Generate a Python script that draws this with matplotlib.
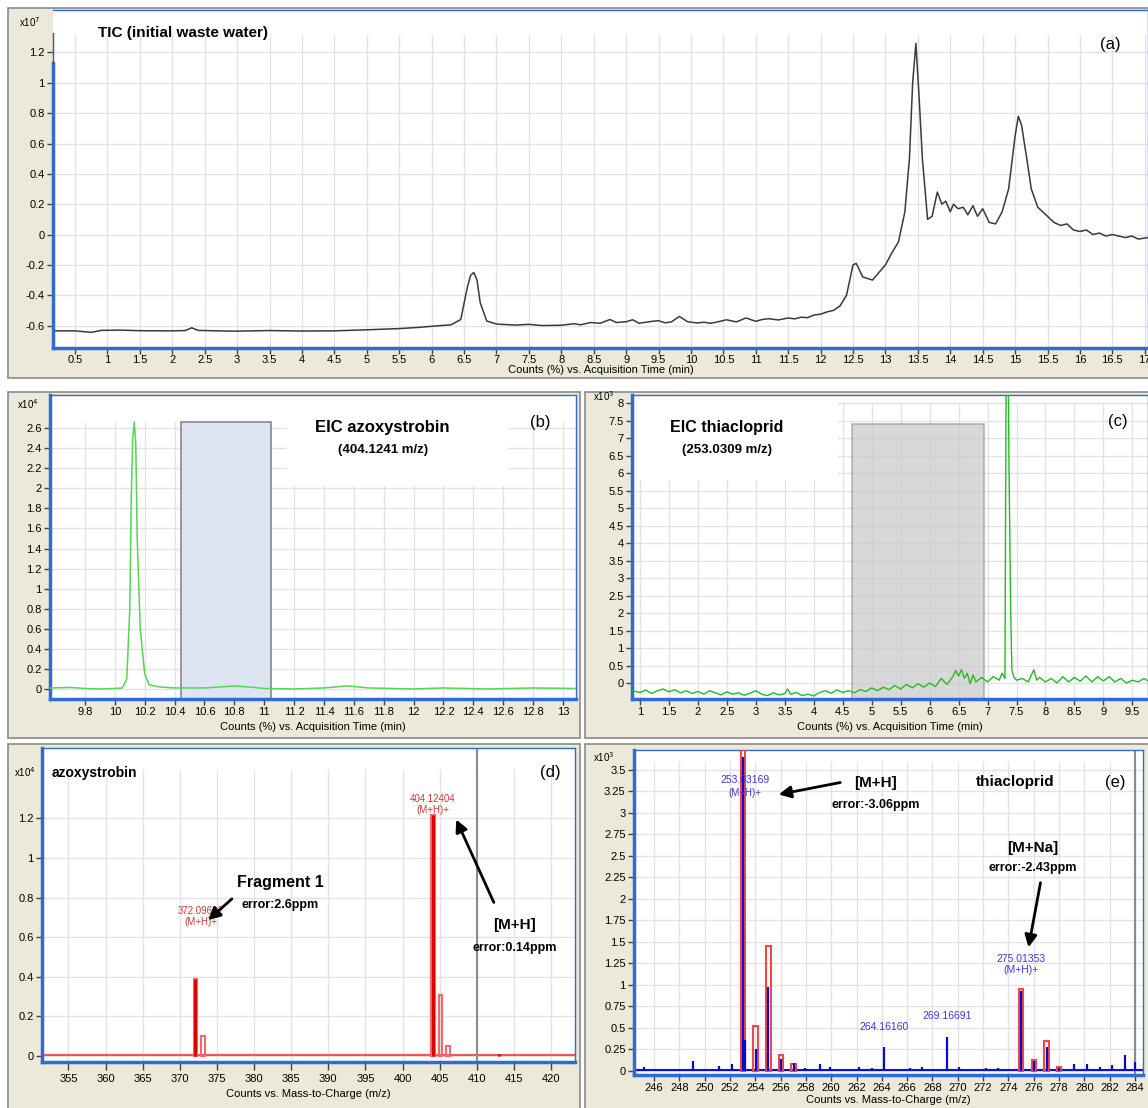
import numpy as np
import matplotlib.pyplot as plt
from matplotlib.patches import Rectangle
from matplotlib.ticker import FuncFormatter

plt.rcParams['font.family'] = ['Liberation Sans', 'DejaVu Sans']

W, H = 1148, 1108

# ---- (a) TIC of the initial waste water, x10^7 counts vs min ----
tic_t = [0.16, 0.5, 0.75, 0.9, 1.2, 1.5, 2.0, 2.2, 2.3, 2.4, 2.8, 3.0, 3.5, 4.0, 4.5,
         5.0, 5.5, 5.8, 6.0, 6.3, 6.45, 6.55, 6.6, 6.65, 6.7, 6.75, 6.85, 7.0, 7.3, 7.5,
         7.7, 8.0, 8.2, 8.3, 8.45, 8.6, 8.75, 8.85, 9.0, 9.1, 9.2, 9.35, 9.5, 9.6, 9.7,
         9.82, 9.95, 10.1, 10.2, 10.3, 10.4, 10.55, 10.7, 10.85, 11.0, 11.1, 11.2, 11.35,
         11.5, 11.6, 11.7, 11.8, 11.9, 12.0, 12.1, 12.2, 12.3, 12.4, 12.5, 12.55, 12.65,
         12.8, 12.9, 13.0, 13.1, 13.2, 13.3, 13.37, 13.42, 13.47, 13.52, 13.57, 13.65,
         13.72, 13.8, 13.87, 13.93, 14.0, 14.05, 14.12, 14.2, 14.27, 14.35, 14.42, 14.5,
         14.6, 14.7, 14.8, 14.9, 15.0, 15.05, 15.1, 15.18, 15.25, 15.35, 15.5, 15.6,
         15.7, 15.8, 15.9, 16.0, 16.1, 16.2, 16.3, 16.4, 16.5, 16.6, 16.7, 16.8, 16.9,
         17.05]
tic_y = [-0.635, -0.635, -0.645, -0.632, -0.63, -0.634, -0.635, -0.633, -0.615, -0.632,
         -0.636, -0.637, -0.633, -0.636, -0.635, -0.628, -0.62, -0.612, -0.605, -0.595,
         -0.56, -0.35, -0.27, -0.25, -0.3, -0.45, -0.57, -0.59, -0.597, -0.592, -0.6,
         -0.598, -0.588, -0.595, -0.58, -0.585, -0.56, -0.58, -0.575, -0.562, -0.585,
         -0.575, -0.568, -0.582, -0.576, -0.54, -0.575, -0.583, -0.578, -0.585, -0.577,
         -0.562, -0.576, -0.55, -0.572, -0.56, -0.555, -0.563, -0.55, -0.556, -0.545,
         -0.548, -0.53, -0.525, -0.51, -0.5, -0.47, -0.4, -0.2, -0.19, -0.28, -0.3,
         -0.25, -0.2, -0.12, -0.05, 0.15, 0.5, 1.0, 1.26, 0.9, 0.5, 0.1, 0.12, 0.28, 0.2,
         0.22, 0.15, 0.2, 0.17, 0.18, 0.13, 0.19, 0.12, 0.17, 0.08, 0.07, 0.15, 0.3, 0.65,
         0.78, 0.72, 0.5, 0.3, 0.18, 0.12, 0.08, 0.06, 0.07, 0.03, 0.02, 0.03, 0.0, 0.01,
         -0.01, 0.0, -0.01, -0.02, -0.01, -0.03, -0.02]

# ---- (b) EIC azoxystrobin, x10^4 ----
eicb_t = [9.57, 9.7, 9.8, 9.9, 10.0, 10.05, 10.08, 10.1, 10.11, 10.12, 10.13, 10.14,
          10.15, 10.17, 10.2, 10.23, 10.3, 10.4, 10.6, 10.8, 10.9, 11.0, 11.2, 11.4,
          11.55, 11.6, 11.7, 12.0, 12.2, 12.5, 12.8, 13.08]
eicb_y = [0.01, 0.015, 0.005, 0.0, 0.005, 0.01, 0.1, 0.8, 1.9, 2.5, 2.66, 2.45, 1.5,
          0.6, 0.15, 0.04, 0.02, 0.01, 0.01, 0.03, 0.02, 0.005, 0.0, 0.01, 0.03, 0.025,
          0.01, 0.0, 0.01, 0.0, 0.01, 0.005]

# ---- (c) EIC thiacloprid, x10^3 ----
eicc_t = [0.87, 1.0, 1.1, 1.2, 1.3, 1.4, 1.5, 1.6, 1.7, 1.8, 1.9, 2.0, 2.1, 2.2, 2.3,
          2.4, 2.5, 2.6, 2.7, 2.8, 2.9, 3.0, 3.1, 3.2, 3.3, 3.4, 3.5, 3.55, 3.6, 3.7,
          3.8, 3.9, 4.0, 4.1, 4.2, 4.3, 4.4, 4.5, 4.6, 4.7, 4.8, 4.9, 5.0, 5.1, 5.2,
          5.3, 5.4, 5.5, 5.6, 5.7, 5.8, 5.9, 6.0, 6.1, 6.2, 6.3, 6.4, 6.45, 6.5, 6.55,
          6.6, 6.65, 6.7, 6.75, 6.8, 6.9, 7.0, 7.1, 7.2, 7.25, 7.3, 7.32, 7.36, 7.37,
          7.4, 7.42, 7.45, 7.5, 7.6, 7.7, 7.8, 7.85, 7.9, 8.0, 8.1, 8.2, 8.3, 8.4, 8.5,
          8.6, 8.7, 8.8, 8.9, 9.0, 9.1, 9.2, 9.3, 9.4, 9.5, 9.6, 9.7, 9.77]
eicc_y = [-0.22, -0.27, -0.2, -0.3, -0.22, -0.17, -0.25, -0.19, -0.28, -0.22, -0.3,
          -0.24, -0.32, -0.22, -0.28, -0.34, -0.25, -0.32, -0.28, -0.35, -0.29, -0.22,
          -0.32, -0.36, -0.28, -0.34, -0.3, -0.17, -0.32, -0.27, -0.36, -0.32, -0.37,
          -0.27, -0.22, -0.29, -0.2, -0.27, -0.22, -0.28, -0.19, -0.24, -0.14, -0.22,
          -0.12, -0.19, -0.07, -0.17, -0.04, -0.14, -0.02, -0.12, 0.0, -0.1, 0.13, -0.04,
          0.18, 0.36, 0.2, 0.38, 0.13, 0.28, -0.02, 0.23, 0.03, 0.16, 0.03, 0.18, 0.08,
          0.28, 0.13, 8.4, 8.4, 6.2, 2.0, 0.38, 0.18, 0.08, 0.13, 0.03, 0.38, 0.08, 0.16,
          0.03, 0.13, 0.0, 0.18, 0.03, 0.16, 0.05, 0.2, 0.03, 0.18, 0.06, 0.18, 0.03,
          0.13, 0.0, 0.08, 0.03, 0.13, 0.06]

# ---- (d) azoxystrobin spectrum, x10^4 ----
msd_mz = [372.10, 404.12, 413.0]
msd_int = [0.39, 1.22, 0.01]
isod_mz = [372.10, 373.10, 404.12, 405.13, 406.13]
isod_int = [0.39, 0.10, 1.22, 0.31, 0.05]

# ---- (e) thiacloprid spectrum, x10^3 ----
mse_mz = [245.2, 249.1, 251.1, 252.2, 253.03, 253.15, 254.05, 255.03, 256.05, 257.05,
          257.9, 259.1, 259.9, 262.2, 263.2, 264.16, 266.2, 267.2, 269.17, 270.1, 272.2,
          273.2, 275.01, 276.01, 277.01, 278.0, 279.2, 280.2, 281.2, 282.2, 283.2, 284.0]
mse_int = [0.05, 0.11, 0.06, 0.08, 3.65, 0.36, 0.25, 0.97, 0.14, 0.09, 0.04, 0.08, 0.05,
           0.05, 0.03, 0.28, 0.04, 0.05, 0.4, 0.05, 0.04, 0.03, 0.93, 0.12, 0.28, 0.04,
           0.08, 0.08, 0.05, 0.07, 0.18, 0.1]
isoe_mz = [253.03, 254.03, 255.03, 256.03, 257.03, 275.01, 276.01, 277.01, 278.01]
isoe_int = [3.8, 0.52, 1.45, 0.18, 0.08, 0.95, 0.13, 0.35, 0.05]

BEIGE = '#ece9d8'
BLUE = '#2f6bd6'
GRID = '#e3e3e3'

fig = plt.figure(figsize=(W / 100, H / 100), dpi=100)


def fx(x):
    return x / W


def fy(y):
    return 1 - y / H


def frame(x0, y0, x1, y1):
    fig.add_artist(Rectangle((fx(x0), fy(y1)), fx(x1 - x0), (y1 - y0) / H,
                             transform=fig.transFigure, facecolor=BEIGE,
                             edgecolor='#8a8a8a', lw=1.2, zorder=0))


def panel(x0, y0, x1, y1, xlim, ylim, xt, yt, gtop, xlabel, tlen=4, tpad=2, lpad=2):
    ax = fig.add_axes([fx(x0), fy(y1), fx(x1 - x0), (y1 - y0) / H])
    ax.set_xlim(xlim)
    ax.set_ylim(ylim)
    ax.set_xticks(xt)
    ax.set_yticks(yt)
    fmt = FuncFormatter(lambda v, p: f'{round(v, 3):g}')
    ax.xaxis.set_major_formatter(fmt)
    ax.yaxis.set_major_formatter(fmt)
    ax.tick_params(labelsize=8, length=4, width=1, color='#444444', pad=2)
    ax.tick_params(axis='x', length=tlen, pad=tpad)
    for s in ['top', 'right']:
        ax.spines[s].set_color(BLUE)
        ax.spines[s].set_linewidth(1)
    for s in ['left', 'bottom']:
        ax.spines[s].set_color(BLUE)
        ax.spines[s].set_linewidth(2.5)
    ax.vlines(xt, ylim[0], gtop, color=GRID, lw=1, zorder=0)
    ax.hlines([v for v in yt if v <= gtop], xlim[0], xlim[1], color=GRID, lw=1, zorder=0)
    ax.set_xlabel(xlabel, fontsize=8, labelpad=lpad)
    return ax


def ftext(x, y, s, **kw):
    fig.text(fx(x), fy(y), s, **kw)


def farrow(x0, y0, x1, y1):
    fig.add_artist(plt.Annotation('', xy=(fx(x1), fy(y1)), xytext=(fx(x0), fy(y0)),
                                  xycoords='figure fraction', textcoords='figure fraction',
                                  arrowprops=dict(arrowstyle='-|>', color='black', lw=2,
                                                  mutation_scale=18)))


def peak_label(ax, mz, h, s, dy, color, size=7.5, dx=0):
    ax.annotate(s, xy=(mz, h), xytext=(dx, dy), textcoords='offset points',
                ha='center', va='center', fontsize=size, color=color, linespacing=1.15)


time_lbl = 'Counts (%) vs. Acquisition Time (min)'
mz_lbl = 'Counts vs. Mass-to-Charge (m/z)'

# frames
frame(8, 8, 1150, 378)
frame(8, 392, 580, 738)
frame(585, 392, 1150, 738)
frame(8, 744, 580, 1110)
frame(585, 744, 1150, 1110)

# (a)
ax = panel(53, 10, 1148, 348, (0.16, 17.05), (-0.748, 1.48),
           np.arange(0.5, 17.01, 0.5), np.arange(-0.6, 1.21, 0.2), 1.32, time_lbl,
           tpad=1, lpad=0)
ax.spines['left'].set_bounds(-0.748, 1.13)
ax.plot([0.16, 0.16], [1.13, 1.33], color='#555555', lw=1, clip_on=False, zorder=5)
ax.plot(tic_t, tic_y, color='#3a3a3a', lw=1.1)
ax.add_patch(Rectangle((0.002, 1.14), 0.43, 0.34, transform=ax.transAxes,
                       facecolor='white', edgecolor='none', zorder=1))
ftext(98, 33, 'TIC (initial waste water)', fontsize=11, fontweight='bold', va='center')
ftext(1110, 45, '(a)', fontsize=12, ha='center', va='center')
ftext(30, 22, r'x10$^{7}$', fontsize=7, ha='center', va='center')

# (b)
ax = panel(50, 395, 576, 699, (9.566, 13.087), (-0.1, 2.93),
           np.arange(9.8, 13.01, 0.2), np.arange(0, 2.61, 0.2), 2.66, time_lbl, lpad=3)
ax.axvspan(10.445, 11.045, ymax=(2.66 + 0.1) / 3.03, facecolor='#dde5f3',
           edgecolor='#888888', lw=1.2, zorder=1)
ax.plot(eicb_t, eicb_y, color='#55d455', lw=1.1, zorder=3)
ax.add_patch(Rectangle((0.45, 0.7), 0.42, 0.3, transform=ax.transAxes, facecolor='white',
                       edgecolor='none', zorder=2))
ftext(382, 428, 'EIC azoxystrobin', fontsize=12, fontweight='bold', ha='center', va='center')
ftext(383, 450, '(404.1241 m/z)', fontsize=9.5, fontweight='bold', ha='center', va='center')
ftext(540, 422, '(b)', fontsize=12, ha='center', va='center')
ftext(28, 404, r'x10$^{4}$', fontsize=7, ha='center', va='center')

# (c)
ax = panel(632, 395, 1148, 699, (0.862, 9.77), (-0.457, 8.23),
           np.arange(1, 9.51, 0.5), np.arange(0, 8.01, 0.5), 8.0, time_lbl, lpad=3)
ax.axvspan(4.66, 6.94, ymax=(7.41 + 0.457) / 8.687, facecolor='#c8c8c8', alpha=0.7,
           edgecolor='#999999', lw=1.2, zorder=1)
ax.plot(eicc_t, eicc_y, color='#22bb22', lw=1.0, zorder=3)
ax.add_patch(Rectangle((0, 0.72), 0.4, 0.28, transform=ax.transAxes, facecolor='white',
                       edgecolor='none', zorder=2))
ftext(727, 428, 'EIC thiacloprid', fontsize=11.5, fontweight='bold', ha='center', va='center')
ftext(727, 450, '(253.0309 m/z)', fontsize=9.5, fontweight='bold', ha='center', va='center')
ftext(1118, 421, '(c)', fontsize=12, ha='center', va='center')
ftext(604, 396, r'x10$^{3}$', fontsize=7, ha='center', va='center')

# (d)
ax = panel(42, 748, 575, 1062, (351.44, 423.23), (-0.03, 1.556),
           np.arange(355, 420.1, 5), np.arange(0, 1.21, 0.2), 1.45, mz_lbl,
           tlen=6, tpad=3, lpad=3)
ax.axhline(0.003, color='#ee5555', lw=1.5, zorder=2)
ax.axvline(410, color='#8c8c8c', lw=1.5, zorder=2)
ax.bar(isod_mz, isod_int, width=0.5, fill=False, edgecolor='#f06a6a', lw=1.5, zorder=3)
ax.vlines(msd_mz, 0, msd_int, color='#e00000', lw=2.2, zorder=4)
peak_label(ax, msd_mz[0], msd_int[0], '372.09692\n(M+H)+', 45, '#c83a3a', 7, dx=4)
peak_label(ax, msd_mz[1], msd_int[1], '404.12404\n(M+H)+', 7, '#c83a3a', 7)
ftext(52, 773, 'azoxystrobin', fontsize=10, fontweight='bold', va='center')
ftext(550, 773, '(d)', fontsize=12, ha='center', va='center')
ftext(25, 772, r'x10$^{4}$', fontsize=7, ha='center', va='center')
ftext(280, 882, 'Fragment 1', fontsize=11.5, fontweight='bold', ha='center', va='center')
ftext(280, 905, 'error:2.6ppm', fontsize=9, fontweight='bold', ha='center', va='center')
farrow(234, 897, 206, 922)
ftext(515, 925, '[M+H]', fontsize=11, fontweight='bold', ha='center', va='center')
ftext(515, 948, 'error:0.14ppm', fontsize=9, fontweight='bold', ha='center', va='center')
farrow(495, 905, 455, 817)

# (e)
ax = panel(634, 750, 1143, 1075, (244.42, 284.63), (-0.047, 3.73),
           np.arange(246, 284.1, 2), np.arange(0, 3.51, 0.25), 3.6, mz_lbl,
           tlen=4, tpad=2, lpad=1)
ax.axvline(284.0, color='#8c8c8c', lw=1.5, zorder=2)
ax.axhline(0.012, color='#1010cc', lw=1.5, zorder=2)
ax.bar(isoe_mz, isoe_int, width=0.35, fill=False, edgecolor='#f04848', lw=1.5, zorder=3)
ax.vlines(mse_mz, 0, mse_int, color='#0a0acc', lw=1.6, zorder=4)
peak_label(ax, mse_mz[22], mse_int[22], '275.01353\n(M+H)+', 19, '#3838d8')
peak_label(ax, mse_mz[15], mse_int[15], '264.16160', 14, '#3838d8')
peak_label(ax, mse_mz[18], mse_int[18], '269.16691', 15, '#3838d8')
ftext(745, 780, '253.03169', fontsize=7.5, color='#3838d8', ha='center', va='center')
ftext(745, 793, '(M+H)+', fontsize=7, color='#3838d8', ha='center', va='center')
ftext(876, 783, '[M+H]', fontsize=11, fontweight='bold', ha='center', va='center')
ftext(876, 805, 'error:-3.06ppm', fontsize=9, fontweight='bold', ha='center', va='center')
farrow(843, 782, 776, 795)
ftext(1015, 782, 'thiacloprid', fontsize=11, fontweight='bold', ha='center', va='center')
ftext(1115, 782, '(e)', fontsize=12, ha='center', va='center')
ftext(1033, 848, '[M+Na]', fontsize=11, fontweight='bold', ha='center', va='center')
ftext(1033, 868, 'error:-2.43ppm', fontsize=9, fontweight='bold', ha='center', va='center')
farrow(1041, 880, 1028, 950)
ftext(604, 757, r'x10$^{3}$', fontsize=7, ha='center', va='center')

fig.savefig('out.png', dpi=100)
